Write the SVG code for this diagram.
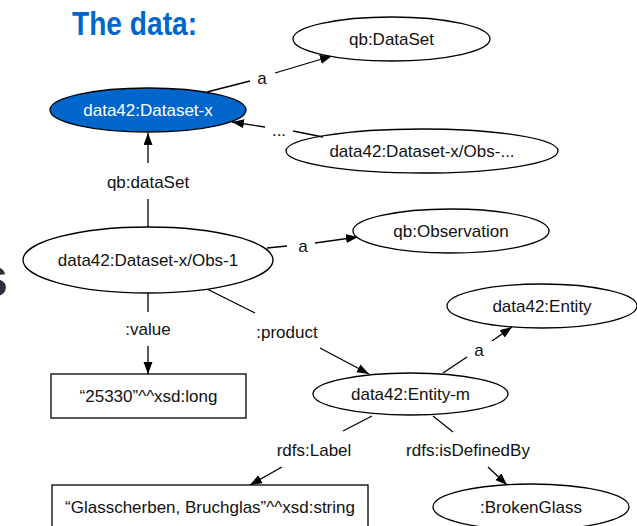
<svg xmlns="http://www.w3.org/2000/svg" width="637" height="526" viewBox="0 0 637 526">
  <style>
    .node { fill: #ffffff; stroke: #000000; stroke-width: 1.3; }
    .hl { fill: #0066cc; stroke: #000000; stroke-width: 1.3; }
    .lbl { font-family: "Liberation Sans", Arial, sans-serif; font-size: 17px; fill: #111111; text-anchor: middle; }
    .lbl-w { font-family: "Liberation Sans", Arial, sans-serif; font-size: 17px; fill: #ffffff; text-anchor: middle; }
    .edge { stroke: #000000; stroke-width: 1.3; fill: none; }
    .arrow { marker-end: url(#head); }
  </style>
  <defs>
    <marker id="head" markerUnits="userSpaceOnUse" markerWidth="13" markerHeight="10" refX="12" refY="4.5" orient="auto">
      <path d="M0,0 L12,4.5 L0,9 z" fill="#000000"/>
    </marker>
  </defs>

  <rect width="637" height="526" fill="#ffffff"/>

  <!-- heading and the clipped glyph on the left edge -->
  <text x="72" y="35" font-family="'Liberation Sans', Arial, sans-serif" font-size="34" font-weight="bold" fill="#0066cc" textLength="125" lengthAdjust="spacingAndGlyphs">The data:</text>
  <text x="-23" y="296" font-family="'Liberation Sans', Arial, sans-serif" font-size="56" font-weight="bold" fill="#2b2e3b">s</text>

  <!-- connectors -->
  <g id="connectors">
    <!-- data42:Dataset-x  a  qb:DataSet -->
    <line class="edge" x1="207" y1="92" x2="250" y2="81"/>
    <text class="lbl" x="262" y="84">a</text>
    <line class="edge arrow" x1="275" y1="73" x2="332" y2="56"/>

    <!-- Obs-...  ...  Dataset-x -->
    <line class="edge" x1="323" y1="137" x2="293" y2="131"/>
    <text class="lbl" x="279" y="136">...</text>
    <line class="edge arrow" x1="265" y1="127" x2="232" y2="122"/>

    <!-- Obs-1  qb:dataSet  Dataset-x -->
    <line class="edge" x1="148" y1="227" x2="148" y2="199"/>
    <text class="lbl" x="148" y="188">qb:dataSet</text>
    <line class="edge arrow" x1="148" y1="163" x2="148" y2="133"/>

    <!-- Obs-1  a  qb:Observation -->
    <line class="edge" x1="267" y1="248" x2="287" y2="246"/>
    <text class="lbl" x="303" y="252">a</text>
    <line class="edge arrow" x1="315" y1="243" x2="358" y2="237"/>

    <!-- Obs-1  :value  literal -->
    <line class="edge" x1="148" y1="293" x2="148" y2="312"/>
    <text class="lbl" x="148" y="335">:value</text>
    <line class="edge arrow" x1="148" y1="346" x2="148" y2="374"/>

    <!-- Obs-1  :product  Entity-m -->
    <line class="edge" x1="205" y1="288" x2="255" y2="313"/>
    <text class="lbl" x="287" y="338">:product</text>
    <line class="edge arrow" x1="320" y1="348" x2="369" y2="374"/>

    <!-- Entity-m  a  data42:Entity -->
    <line class="edge" x1="443" y1="373" x2="467" y2="357"/>
    <text class="lbl" x="479" y="356">a</text>
    <line class="edge arrow" x1="492" y1="341" x2="512" y2="327"/>

    <!-- Entity-m  rdfs:Label  literal -->
    <line class="edge" x1="372" y1="416" x2="343" y2="431"/>
    <text class="lbl" x="314" y="456">rdfs:Label</text>
    <line class="edge arrow" x1="282" y1="467" x2="250" y2="485"/>

    <!-- Entity-m  rdfs:isDefinedBy  :BrokenGlass -->
    <line class="edge" x1="433" y1="416" x2="453" y2="432"/>
    <text class="lbl" x="468" y="456">rdfs:isDefinedBy</text>
    <line class="edge arrow" x1="488" y1="467" x2="507" y2="485"/>
  </g>

  <!-- nodes -->
  <g id="qb-DataSet">
    <ellipse class="node" cx="391.5" cy="39" rx="98.5" ry="22"/>
    <text class="lbl" x="391.5" y="45">qb:DataSet</text>
  </g>
  <g id="dataset-x">
    <ellipse class="hl" cx="148" cy="110" rx="98" ry="22"/>
    <text class="lbl-w" x="148" y="116">data42:Dataset-x</text>
  </g>
  <g id="obs-more">
    <ellipse class="node" cx="422" cy="151" rx="136" ry="22" style="fill:none"/>
    <text class="lbl" x="422" y="157">data42:Dataset-x/Obs-...</text>
  </g>
  <g id="obs-1">
    <ellipse class="node" cx="148" cy="260" rx="125" ry="33"/>
    <text class="lbl" x="148" y="266">data42:Dataset-x/Obs-1</text>
  </g>
  <g id="qb-Observation">
    <ellipse class="node" cx="451" cy="231" rx="98" ry="22"/>
    <text class="lbl" x="451" y="237">qb:Observation</text>
  </g>
  <g id="entity">
    <ellipse class="node" cx="542" cy="306" rx="95" ry="22"/>
    <text class="lbl" x="542" y="312">data42:Entity</text>
  </g>
  <g id="value-literal">
    <rect class="node" x="51" y="374" width="195" height="44"/>
    <text class="lbl" x="148.5" y="402">“25330”^^xsd:long</text>
  </g>
  <g id="entity-m">
    <ellipse class="node" cx="410.5" cy="394" rx="97.5" ry="21"/>
    <text class="lbl" x="410.5" y="400">data42:Entity-m</text>
  </g>
  <g id="label-literal">
    <rect class="node" x="52" y="485" width="316" height="50"/>
    <text class="lbl" x="210" y="513">“Glasscherben, Bruchglas”^^xsd:string</text>
  </g>
  <g id="broken-glass">
    <ellipse class="node" cx="531" cy="507" rx="98" ry="23"/>
    <text class="lbl" x="531" y="513">:BrokenGlass</text>
  </g>
</svg>
